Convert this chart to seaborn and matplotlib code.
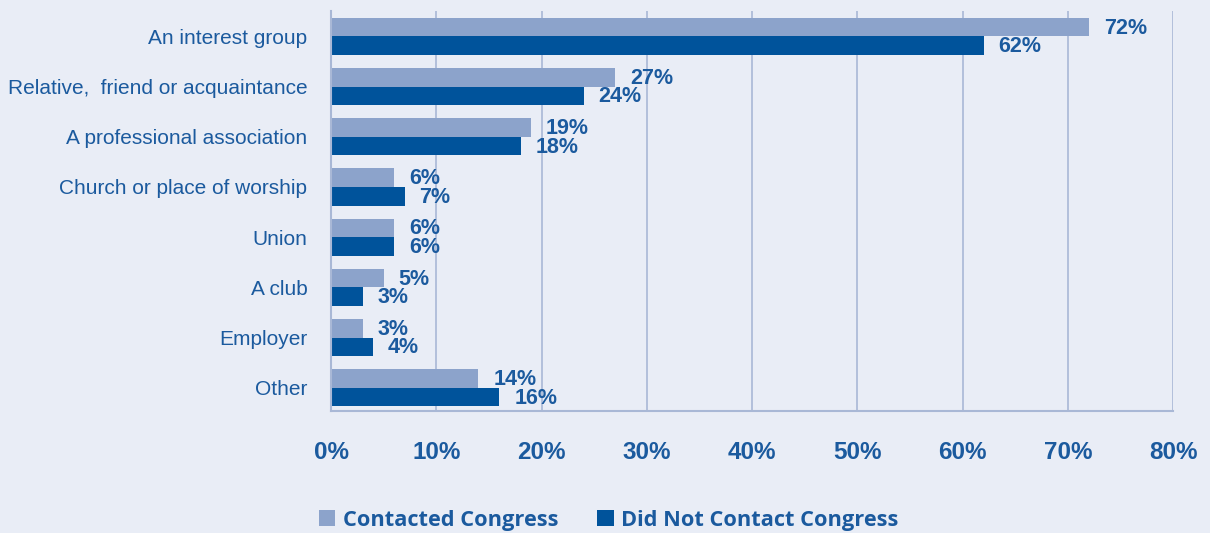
import matplotlib
matplotlib.use("Agg")
import matplotlib.pyplot as plt
import seaborn as sns
import pandas as pd
from matplotlib.patches import Patch

# dataset
categories = ["An interest group", "Relative,  friend or acquaintance",
              "A professional association", "Church or place of worship",
              "Union", "A club", "Employer", "Other"]
contacted = [72, 27, 19, 6, 6, 5, 3, 14]
not_contacted = [62, 24, 18, 7, 6, 3, 4, 16]
series = ["Contacted Congress", "Did Not Contact Congress"]
ticks = [0, 10, 20, 30, 40, 50, 60, 70, 80]

df = pd.DataFrame({
    "category": categories * 2,
    "value": contacted + not_contacted,
    "group": [series[0]] * len(categories) + [series[1]] * len(categories),
})

bg = "#e9edf6"
light = "#8ca3cb"
dark = "#00539b"
txt = "#1b5a9e"
grid = "#a9b8d6"

sns.set_style("white")
fig = plt.figure(figsize=(12.1, 5.33), dpi=100, facecolor=bg)
ax = fig.add_axes([0.2736, 0.229, 0.696, 0.75])
ax.set_facecolor(bg)

sns.barplot(data=df, x="value", y="category", hue="group",
            palette=[light, dark], width=0.74, ax=ax, legend=False,
            saturation=1, orient="h", linewidth=0)

# value labels
for cont, vals in zip(ax.containers, [contacted, not_contacted]):
    for bar, v in zip(cont, vals):
        ax.text(bar.get_width() + 1.4, bar.get_y() + bar.get_height() / 2 + 0.02,
                f"{v}%", ha="left", va="center", fontsize=15.5,
                fontweight="bold", color=txt, family="Liberation Sans")

ax.set_xlim(0, 80)
ax.set_ylim(7.46, -0.5)
ax.set_xticks(ticks)
ax.set_xticklabels([f"{t}%" for t in ticks], fontsize=17.5, fontweight="bold",
                   color=txt, family="Liberation Sans")
ax.tick_params(axis="x", length=0, pad=22)
ax.tick_params(axis="y", length=0, pad=17)
for lbl in ax.get_yticklabels():
    lbl.set_fontsize(15)
    lbl.set_color(txt)
    lbl.set_family("Liberation Sans")
ax.set_xlabel("")
ax.set_ylabel("")

ax.grid(axis="x", color=grid, linewidth=1.2)
ax.set_axisbelow(True)
for s in ["top", "right"]:
    ax.spines[s].set_visible(False)
for s in ["left", "bottom"]:
    ax.spines[s].set_color(grid)
    ax.spines[s].set_linewidth(1.5)

handles = [Patch(facecolor=light, edgecolor="none", label=series[0]),
           Patch(facecolor=dark, edgecolor="none", label=series[1])]
fig.legend(handles=handles, loc="center", bbox_to_anchor=(0.503, 0.024),
           ncol=2, frameon=False, handlelength=0.75, handleheight=0.75,
           handletextpad=0.35, columnspacing=1.8,
           prop={"family": "Open Sans", "weight": "bold", "size": 15.7})
for t in fig.legends[0].get_texts():
    t.set_color(txt)

fig.savefig("out.png", dpi=100, facecolor=bg)
